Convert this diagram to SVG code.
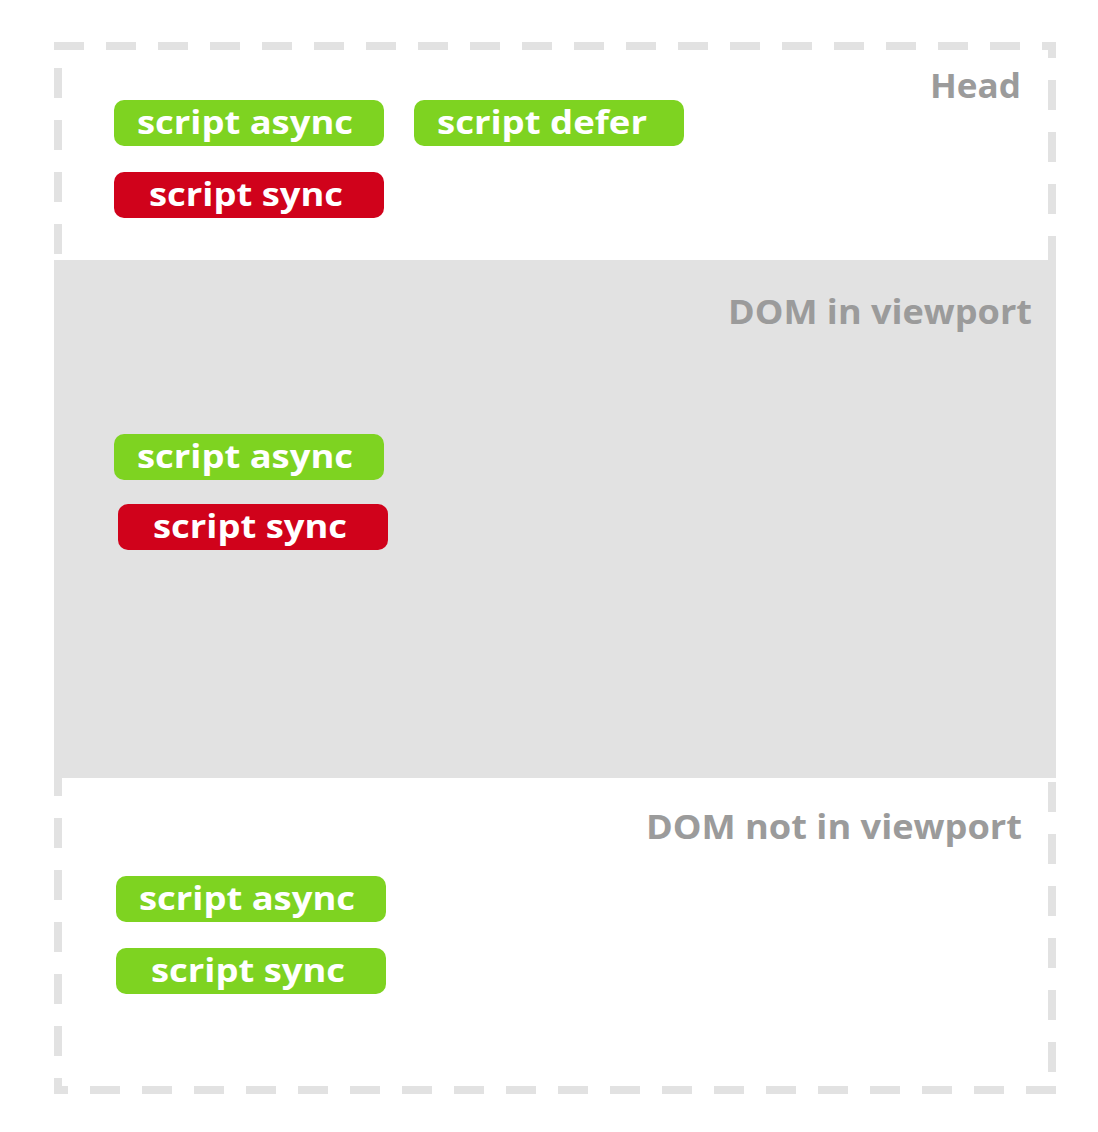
<svg xmlns="http://www.w3.org/2000/svg" width="1098" height="1132" viewBox="0 0 1098 1132">
  <style>
    .dash { stroke: #e2e2e2; stroke-width: 8; stroke-dasharray: 30 22; fill: none; }
    .band { fill: #e2e2e2; }
    .green { fill: #7ed321; }
    .red { fill: #d0021b; }
    .pill-text { font-family: "Open Sans", "Liberation Sans", sans-serif; font-weight: 700; font-size: 33px; fill: #ffffff; }
    .label { font-family: "Open Sans", "Liberation Sans", sans-serif; font-weight: 700; font-size: 34px; fill: #9b9b9b; }
  </style>
  <rect width="1098" height="1132" fill="#ffffff"/>
  <g id="frame">
    <rect class="band" x="54" y="260" width="1002" height="518"/>
    <line class="dash" x1="54" y1="46" x2="1056" y2="46"/>
    <line class="dash" x1="1052" y1="42" x2="1052" y2="260" stroke-dashoffset="14"/>
    <line class="dash" x1="58" y1="68" x2="58" y2="260"/>
    <line class="dash" x1="58" y1="766" x2="58" y2="1094"/>
    <line class="dash" x1="1052" y1="782" x2="1052" y2="1072"/>
    <line class="dash" x1="54" y1="1090" x2="1056" y2="1090" stroke-dashoffset="16"/>
  </g>
  <g id="labels">
    <text id="label-head" class="label" x="1021" y="98" text-anchor="end" textLength="91" lengthAdjust="spacingAndGlyphs">Head</text>
    <text id="label-dom-in" class="label" x="1032" y="324" text-anchor="end" textLength="304" lengthAdjust="spacingAndGlyphs">DOM in viewport</text>
    <text id="label-dom-out" class="label" x="1022" y="839" text-anchor="end" textLength="376" lengthAdjust="spacingAndGlyphs">DOM not in viewport</text>
  </g>
  <g id="head-async">
    <rect class="green" x="114" y="100" width="270" height="46" rx="10"/>
    <text class="pill-text" x="137" y="134" textLength="216" lengthAdjust="spacingAndGlyphs">script async</text>
  </g>
  <g id="head-defer">
    <rect class="green" x="414" y="100" width="270" height="46" rx="10"/>
    <text class="pill-text" x="437" y="134" textLength="210" lengthAdjust="spacingAndGlyphs">script defer</text>
  </g>
  <g id="head-sync">
    <rect class="red" x="114" y="172" width="270" height="46" rx="10"/>
    <text class="pill-text" x="149" y="206" textLength="194" lengthAdjust="spacingAndGlyphs">script sync</text>
  </g>
  <g id="viewport-async">
    <rect class="green" x="114" y="434" width="270" height="46" rx="10"/>
    <text class="pill-text" x="137" y="468" textLength="216" lengthAdjust="spacingAndGlyphs">script async</text>
  </g>
  <g id="viewport-sync">
    <rect class="red" x="118" y="504" width="270" height="46" rx="10"/>
    <text class="pill-text" x="153" y="538" textLength="194" lengthAdjust="spacingAndGlyphs">script sync</text>
  </g>
  <g id="below-async">
    <rect class="green" x="116" y="876" width="270" height="46" rx="10"/>
    <text class="pill-text" x="139" y="910" textLength="216" lengthAdjust="spacingAndGlyphs">script async</text>
  </g>
  <g id="below-sync">
    <rect class="green" x="116" y="948" width="270" height="46" rx="10"/>
    <text class="pill-text" x="151" y="982" textLength="194" lengthAdjust="spacingAndGlyphs">script sync</text>
  </g>
  <g id="connectors"/>
</svg>
